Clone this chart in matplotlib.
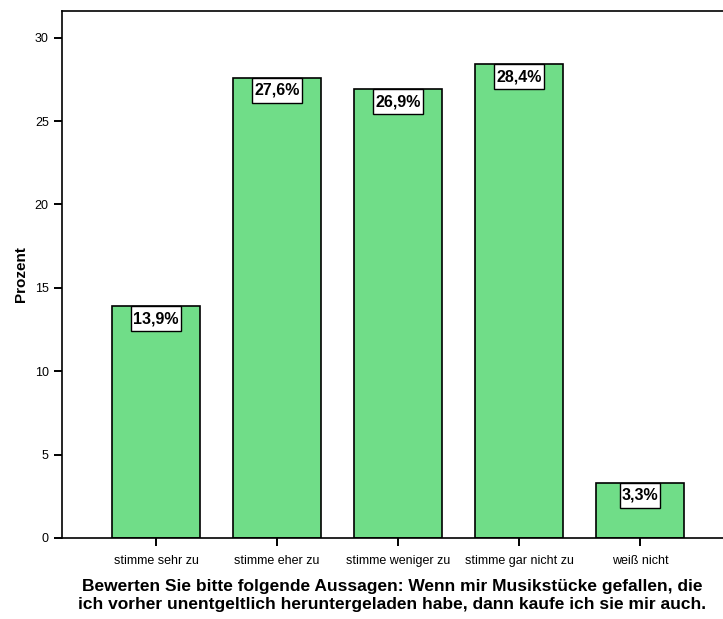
import matplotlib
matplotlib.use("Agg")
import matplotlib.pyplot as plt
from matplotlib.patches import Rectangle
from matplotlib.transforms import IdentityTransform

plt.rcParams['font.family'] = ['Liberation Sans', 'DejaVu Sans']

categories = ["stimme sehr zu", "stimme eher zu", "stimme weniger zu", "stimme gar nicht zu", "weiß nicht"]
values = [13.9, 27.6, 26.9, 28.4, 3.3]
labels = ["13,9%", "27,6%", "26,9%", "28,4%", "3,3%"]
yticks = [0, 5, 10, 15, 20, 25, 30]

fig = plt.figure(figsize=(7.23, 6.19), dpi=100)
ax = fig.add_axes([62/723, 81/619, 1 - 62/723, (538-11)/619])

x = list(range(len(categories)))
ax.bar(x, values, width=0.727, color='#70DD88', edgecolor='black', linewidth=1.2, zorder=2)

box_h_px = 25
texts = []
for xi, v, lab in zip(x, values, labels):
    t = ax.annotate(lab, xy=(xi, v), xytext=(0, -box_h_px / 2 * 72 / 100), textcoords='offset points',
                    ha='center', va='center', fontsize=11.5, fontweight='bold', zorder=5)
    texts.append((t, xi, v))

ax.set_xlim(-0.777, 4.686)
ax.set_ylim(0, 31.6)
ax.set_yticks(yticks)
ax.set_yticklabels([str(t) for t in yticks], fontsize=9)
ax.set_xticks(x)
ax.set_xticklabels(categories, fontsize=9)
ax.tick_params(axis='both', direction='out', length=6, width=1.4, color='black')
ax.tick_params(axis='x', pad=6)

for s in ['left', 'bottom', 'top']:
    ax.spines[s].set_linewidth(1.2)
ax.spines['right'].set_visible(False)

ax.set_ylabel("Prozent", fontsize=11, fontweight='bold', labelpad=5)
ax.set_xlabel("Bewerten Sie bitte folgende Aussagen: Wenn mir Musikstücke gefallen, die\n"
              "ich vorher unentgeltlich heruntergeladen habe, dann kaufe ich sie mir auch.",
              fontsize=12.5, fontweight='bold', labelpad=9, linespacing=1.25)

fig.canvas.draw()
renderer = fig.canvas.get_renderer()
for t, xi, v in texts:
    bb = t.get_window_extent(renderer)
    top = ax.transData.transform((xi, v))[1]
    rect = Rectangle((bb.x0 - 2, top - box_h_px), bb.width + 4, box_h_px,
                     facecolor='white', edgecolor='black', linewidth=1.0, zorder=3)
    ax.add_artist(rect)
    rect.set_transform(IdentityTransform())
    rect.set_clip_on(False)

fig.savefig("out.png", dpi=100)
